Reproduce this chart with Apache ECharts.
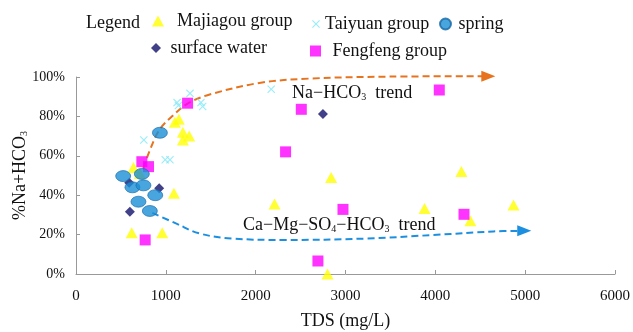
<!DOCTYPE html>
<html><head><meta charset="utf-8">
<script src="https://cdn.jsdelivr.net/npm/echarts@6/dist/echarts.min.js"></script>
<style>html,body{margin:0;padding:0;background:#fff}#c{width:633px;height:332px}</style>
</head><body><div id="c"></div>
<script>
// Data (x = TDS mg/L, y = %Na+HCO3)
const majiagou = [[620,21],[960,21],[640,54],[710,51],[1090,41],[1100,77],[1145,78.5],[1190,72],[1260,70],[1190,68],[2210,35.5],[2840,49],[2800,0],[3880,33.3],[4290,52],[4390,27],[4870,35]];
const taiyuan = [[755,68],[993,58],[1046,58],[1125,87],[1140,85.5],[1269,91.7],[1391,87],[1410,85],[2173,93.8]];
const spring = [[525,49.7],[733,50.8],[628,44],[751,45],[882,40],[695,36.7],[822,32],[934,71.7]];
const surfaceWater = [[592,46.3],[926,43.5],[600,31.6],[2749,81.2]];
const fengfeng = [[733,57],[807,54.5],[770,17.3],[1242,86.7],[2508,83.6],[2333,62],[2972,32.8],[2693,6.6],[4044,93.4],[4319,30.3]];
const naTrend = [[748,53.6],[815,62],[926,73],[1080,80.5],[1242,86.5],[1480,91],[2042,97],[2600,99.2],[3500,100.2],[4590,100.4]];
const caTrend = [[850,31],[1112,25.7],[1373,20.6],[1745,18],[2302,17.3],[3233,18],[3977,19.8],[4646,21.6],[4990,21.9]];
const xTicks = [0,1000,2000,3000,4000,5000,6000];
const yTicks = [0,20,40,60,80,100];

const chart = echarts.init(document.getElementById('c'));
const serif = 'Liberation Serif';
const xPath = 'path://M0,1L1,0L5,4L9,0L10,1L6,5L10,9L9,10L5,6L1,10L0,9L4,5Z';

function arrowData(arr){
  return arr.map((p,i)=> i===arr.length-1 ? {value:p, symbol:'triangle', symbolSize:[11,14], symbolRotate:-90} : {value:p, symbol:'none'});
}
function legend(name, left, top, w, h, pad){
  return {data:[name], left:left, top:top, itemWidth:w, itemHeight:h, padding:0,
    textStyle:{fontFamily:serif, fontSize:18, color:'#111', padding:[0,0,0,pad]}};
}

chart.setOption({
  animation:false,
  grid:{left:76, right:18, top:77, bottom:58, outerBoundsMode:'none', containLabel:false},
  legend:[
    legend('Majiagou group',152,12,12,11,8),
    legend('Taiyuan group',312,15,8,8,0),
    legend('spring',439,15,14,11,1),
    legend('surface water',151,39,10,10,4.5),
    legend('Fengfeng group',310,42,11,11,6.5)
  ],
  graphic:[
    {type:'text', left:86, top:14, style:{text:'Legend', font:'18px "Liberation Serif"', fill:'#111'}},
    {type:'text', left:292, top:84, style:{text:'{a|Na−HCO}{s|3}{a|  trend}', rich:{a:{fontFamily:serif,fontSize:18,fill:'#111'}, s:{fontFamily:serif,fontSize:10,fill:'#111',padding:[9,0,0,0]}}}},
    {type:'text', left:243, top:216, style:{text:'{a|Ca−Mg−SO}{s|4}{a|−HCO}{s|3}{a|  trend}', rich:{a:{fontFamily:serif,fontSize:18,fill:'#111'}, s:{fontFamily:serif,fontSize:10,fill:'#111',padding:[9,0,0,0]}}}}
  ],
  xAxis:{type:'value', min:0, max:6000, interval:1000,
    name:'TDS (mg/L)', nameLocation:'middle', nameGap:38, nameMoveOverlap:false,
    nameTextStyle:{fontFamily:serif, fontSize:18, color:'#111'},
    axisLine:{lineStyle:{color:'#999'}}, axisTick:{inside:true, length:4, lineStyle:{color:'#999'}},
    splitLine:{show:false}, axisLabel:{fontFamily:serif, fontSize:15, color:'#111', margin:15, formatter:(v)=>String(v)}},
  yAxis:{type:'value', min:0, max:100, interval:20,
    name:'{a|%Na+HCO}{s|3}', nameLocation:'middle', nameGap:56, nameRotate:90, nameMoveOverlap:false,
    nameTextStyle:{align:'center', verticalAlign:'middle', rich:{a:{fontFamily:serif, fontSize:18, color:'#111'}, s:{fontFamily:serif, fontSize:10, color:'#111', padding:[9,0,0,0]}}},
    axisLine:{show:true, lineStyle:{color:'#999'}}, axisTick:{show:true, inside:true, length:4, lineStyle:{color:'#999'}},
    splitLine:{show:false}, axisLabel:{fontFamily:serif, fontSize:14, color:'#111', formatter:'{value}%', margin:11}},
  series:[
    {name:'naTrend', type:'line', smooth:0.35, clip:false, data:arrowData(naTrend), z:1,
      lineStyle:{color:'#E8731E', width:2, type:[7,4]}, itemStyle:{color:'#E8731E'}, silent:true},
    {name:'caTrend', type:'line', smooth:0.4, clip:false, data:arrowData(caTrend), z:1,
      lineStyle:{color:'#1C8FE0', width:2, type:[7,4]}, itemStyle:{color:'#1C8FE0'}, silent:true},
    {name:'Majiagou group', type:'scatter', data:majiagou, symbol:'triangle', symbolSize:[12,11], itemStyle:{color:'#FFFF00'}, z:2},
    {name:'Taiyuan group', type:'scatter', data:taiyuan, symbol:xPath, symbolSize:8, itemStyle:{color:'#7FE9F7'}, z:2},
    {name:'Fengfeng group', type:'scatter', data:fengfeng, symbol:'rect', symbolSize:11, itemStyle:{color:'#FF00FF'}, z:3},
    {name:'surface water', type:'scatter', data:surfaceWater, symbol:'diamond', symbolSize:[10,10], itemStyle:{color:'#12126B'}, z:3},
    {name:'spring', type:'scatter', data:spring, symbol:'circle', symbolSize:[15,11], itemStyle:{color:'#1A8ED6', borderColor:'#1668A6', borderWidth:0.8}, z:4}
  ]
});
</script></body></html>
